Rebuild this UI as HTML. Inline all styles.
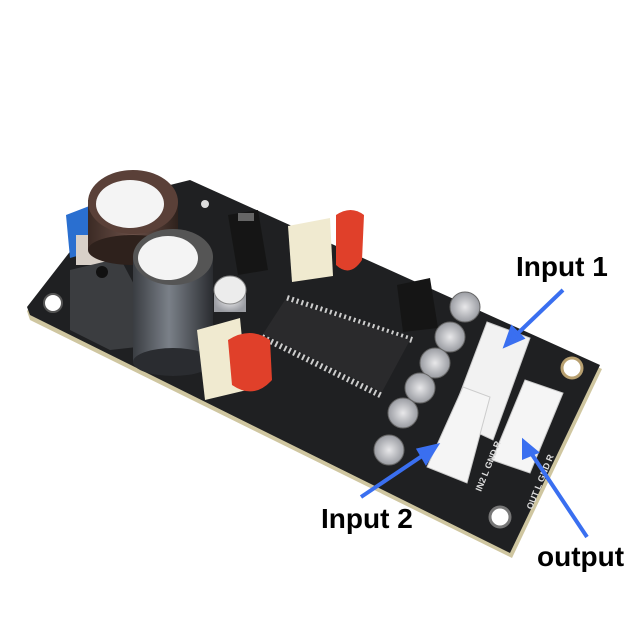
<!DOCTYPE html>
<html><head><style>
html,body{margin:0;padding:0;background:#fff;width:640px;height:640px;overflow:hidden}
svg{display:block}
text{font-family:"Liberation Sans",sans-serif;font-weight:bold}
</style></head><body>
<svg width="640" height="640" viewBox="0 0 640 640">
<defs>
<linearGradient id="cyl" x1="0" x2="1"><stop offset="0" stop-color="#3a3d42"/><stop offset=".45" stop-color="#7a8088"/><stop offset="1" stop-color="#2a2c30"/></linearGradient>
<linearGradient id="brn" x1="0" x2="1"><stop offset="0" stop-color="#3b2a24"/><stop offset=".5" stop-color="#6b5048"/><stop offset="1" stop-color="#2e211c"/></linearGradient>
<radialGradient id="sil"><stop offset="0" stop-color="#e8e8ea"/><stop offset="1" stop-color="#9a9ca2"/></radialGradient>
</defs>
<polygon points="27,311 110,204 190,184 602,369 512,558 30,320" fill="#cfc6a0"/>
<polygon points="27,307 110,200 190,180 600,365 510,553 30,315" fill="#1f2022"/>
<circle cx="53" cy="303" r="9" fill="#fff" stroke="#555" stroke-width="2"/>
<circle cx="572" cy="368" r="10" fill="#fff" stroke="#b8a070" stroke-width="3"/>
<circle cx="500" cy="517" r="10" fill="#fff" stroke="#777" stroke-width="3"/>
<circle cx="205" cy="204" r="4" fill="#ddd"/>
<polygon points="66,215 92,205 98,250 70,258" fill="#2a6fd0"/>
<rect x="76" y="235" width="40" height="30" fill="#d8d0c8"/>
<polygon points="70,270 120,258 137,290 137,347 110,350 70,330" fill="#3b3d40"/>
<circle cx="102" cy="272" r="6" fill="#111"/>
<rect x="88" y="200" width="90" height="50" fill="url(#brn)"/>
<ellipse cx="133" cy="250" rx="45" ry="15" fill="#2e211c"/>
<ellipse cx="133" cy="202" rx="45" ry="32" fill="#5a4038"/>
<ellipse cx="130" cy="204" rx="34" ry="24" fill="#f4f4f4"/>
<polygon points="228,215 258,210 268,270 238,275" fill="#151515"/>
<rect x="238" y="213" width="16" height="8" fill="#666"/>
<rect x="133" y="257" width="80" height="105" fill="url(#cyl)"/>
<ellipse cx="173" cy="362" rx="40" ry="14" fill="#2a2c30"/>
<ellipse cx="173" cy="257" rx="40" ry="28" fill="#555"/>
<ellipse cx="168" cy="258" rx="30" ry="22" fill="#f4f4f4"/>
<rect x="214" y="290" width="32" height="22" fill="url(#sil)"/>
<ellipse cx="230" cy="290" rx="16" ry="14" fill="#ececec" stroke="#888"/>
<!-- chip with pins -->
<line x1="287" y1="298" x2="412" y2="340" stroke="#ccc" stroke-width="6" stroke-dasharray="2 3"/>
<line x1="262" y1="337" x2="382" y2="396" stroke="#ccc" stroke-width="6" stroke-dasharray="2 3"/>
<polygon points="285,300 410,340 382,392 263,334" fill="#2a2a2c"/>
<polygon points="336,210 330,218 333,276 292,282" fill="none"/>
<polygon points="288,226 330,218 333,276 292,282" fill="#f0ead0"/>
<path d="M336,215 q15,-10 28,0 l-2,45 q-12,18 -26,5 z" fill="#e0402a"/>
<polygon points="197,330 240,318 247,390 205,400" fill="#f0ead0"/>
<path d="M228,340 q22,-14 42,0 l2,40 q-18,20 -40,5 z" fill="#e0402a"/>
<polygon points="397,285 430,278 438,328 403,332" fill="#151515"/>
<g fill="url(#sil)" stroke="#666" stroke-width="1">
<circle cx="465" cy="307" r="15"/>
<circle cx="450" cy="337" r="15"/>
<circle cx="435" cy="363" r="15"/>
<circle cx="420" cy="388" r="15"/>
<circle cx="403" cy="413" r="15"/>
<circle cx="389" cy="450" r="15"/>
</g>
<polygon points="487,322 530,338 493,440 450,420" fill="#f2f2f2" stroke="#ccc"/>
<polygon points="463,387 490,397 467,483 427,467" fill="#f5f5f5" stroke="#ccc"/>
<polygon points="525,380 563,393 530,473 492,460" fill="#f5f5f5" stroke="#ccc"/>
<text x="0" y="0" font-size="9" fill="#ddd" transform="translate(481,492) rotate(-68)">IN2 L GND R</text>
<text x="0" y="0" font-size="9" fill="#ddd" transform="translate(532,510) rotate(-68)">OUT L GND R</text>
<g stroke="#3a6ff0" stroke-width="4" fill="#3a6ff0">
<line x1="563" y1="290" x2="514" y2="337"/>
<polygon points="506,345 512,328 522,338"/>
<line x1="361" y1="497" x2="428" y2="452"/>
<polygon points="436,446 426,462 419,450"/>
<line x1="587" y1="537" x2="529" y2="450"/>
<polygon points="524,442 536,452 524,457"/>
</g>
<text x="516" y="276" font-size="28" fill="#000">Input 1</text>
<text x="321" y="528" font-size="28" fill="#000">Input 2</text>
<text x="537" y="566" font-size="28" fill="#000">output</text>
</svg>
</body></html>
